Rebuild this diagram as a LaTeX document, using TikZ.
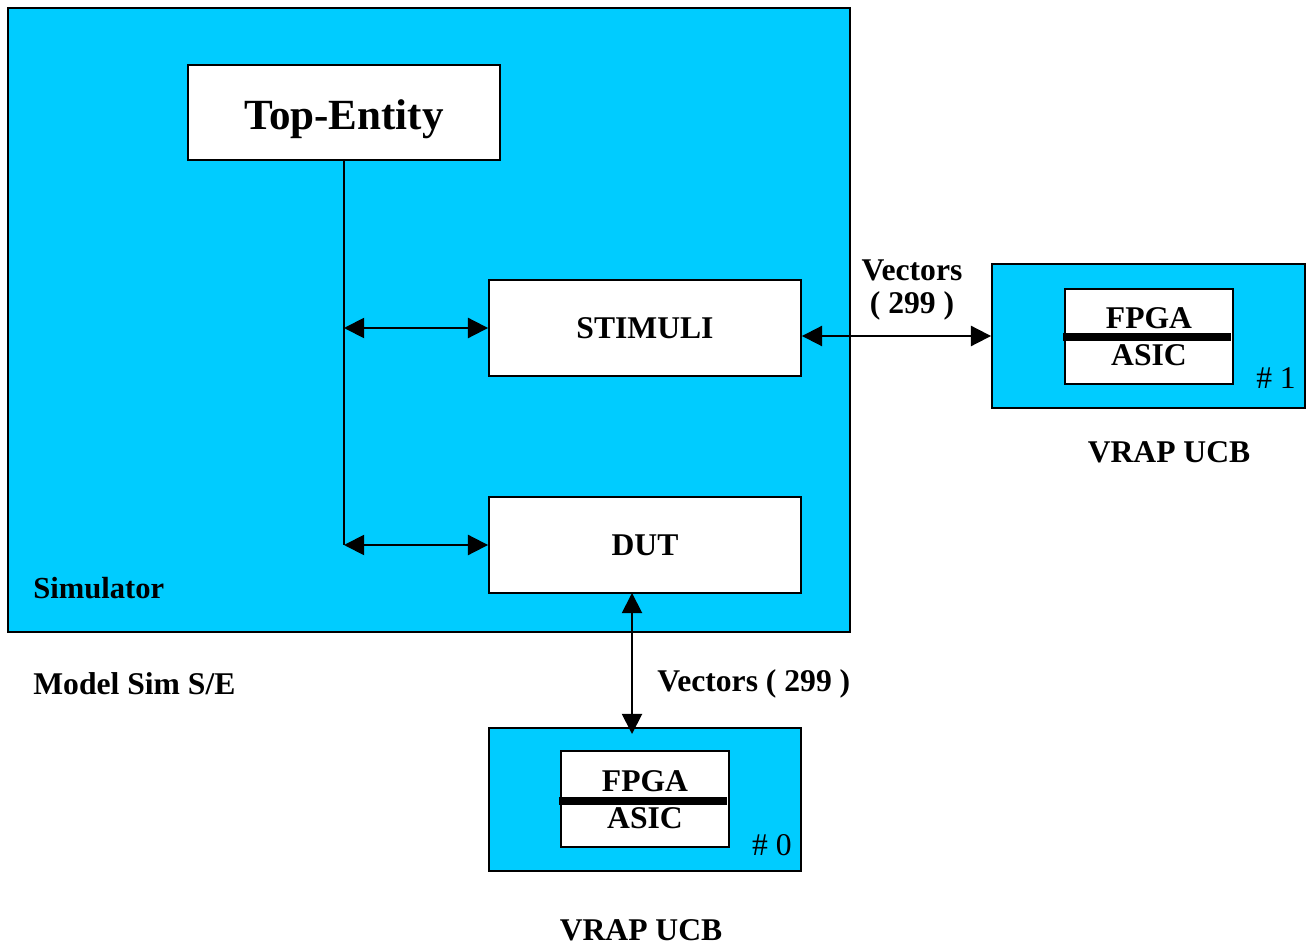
\documentclass[tikz,border=0pt]{standalone}
\usepackage{fontspec}
\setmainfont{Liberation Serif}
\usetikzlibrary{arrows.meta}
\definecolor{simcyan}{HTML}{00CCFF}
\begin{document}
\begin{tikzpicture}[x=0.02cm,y=-0.02cm,
  box/.style={draw=black,line width=1.1pt,rectangle,inner sep=0pt},
  cyanbox/.style={box,fill=simcyan},
  whitebox/.style={box,fill=white},
  lbl/.style={font=\bfseries\fontsize{18}{20}\selectfont,inner sep=0pt},
  num/.style={font=\fontsize{18}{20}\selectfont,inner sep=0pt},
  dbl/.style={line width=1.1pt,{Triangle[length=11.5pt,width=11.5pt]}-{Triangle[length=11.5pt,width=11.5pt]}},
  bar/.style={line width=4pt}]
\useasboundingbox (0,0) rectangle (1311,945);
% simulator
\node[cyanbox,minimum width=16.84cm,minimum height=12.48cm] (sim) at (429,320) {};
\node[whitebox,minimum width=6.24cm,minimum height=1.9cm] (top) at (344,112.5) {};
\node[font=\bfseries\fontsize{24.5}{26}\selectfont,inner sep=0pt] (toptxt) at (344,119) {Top-Entity};
\node[whitebox,minimum width=6.24cm,minimum height=1.92cm,font=\bfseries\fontsize{18}{20}\selectfont] (stim) at (645,328) {STIMULI};
\node[whitebox,minimum width=6.24cm,minimum height=1.92cm,font=\bfseries\fontsize{18}{20}\selectfont] (dut) at (645,545) {DUT};
\node[lbl,anchor=west,font=\bfseries\fontsize{17.4}{20}\selectfont] (simlbl) at (33,588) {Simulator};
\node[lbl,anchor=west] (mslbl) at (33,684) {Model Sim S/E};
% bus
\coordinate (j1) at (top.south |- stim.west);
\coordinate (j2) at (top.south |- dut.west);
\draw[line width=1.1pt] (top.south) -- (j2);
\draw[dbl] (j1) -- (stim.west);
\draw[dbl] (j2) -- (dut.west);
% right board
\node[cyanbox,minimum width=6.26cm,minimum height=2.88cm] (rb) at (1148.5,336) {};
\node[whitebox,minimum width=3.36cm,minimum height=1.9cm] (rin) at (1149,336.5) {};
\coordinate (rbl) at (1063,337);
\coordinate (rbr) at (1231,337);
\draw[bar] (rbl) -- (rbr);
\node[lbl] (rf) at (1149,318) {FPGA};
\node[lbl] (ra) at (1149,355) {ASIC};
\node[num] (rn) at (1276,378) {\# 1};
\node[lbl] (rv) at (1169,452) {VRAP UCB};
\draw[dbl] (stim.east |- rb.west) -- (rb.west);
\node[lbl] (vr1) at (912,270) {Vectors};
\node[lbl] (vr2) at (912,306) {( 299 )};
% bottom board
\node[cyanbox,minimum width=6.24cm,minimum height=2.86cm] (bb) at (645,799.5) {};
\node[whitebox,minimum width=3.36cm,minimum height=1.92cm] (bin) at (645,799) {};
\coordinate (bbl) at (559,801);
\coordinate (bbr) at (727,801);
\draw[bar] (bbl) -- (bbr);
\node[lbl] (bf) at (645,781) {FPGA};
\node[lbl] (ba) at (645,818) {ASIC};
\node[num] (bn) at (772,845) {\# 0};
\node[lbl] (bv) at (641,930) {VRAP UCB};
\coordinate (v1) at (632,593);
\coordinate (v2) at (632,734);
\draw[dbl] (v1) -- (v2);
\node[lbl,anchor=west] (vb) at (657,684) {Vectors ( 299 )};
\end{tikzpicture}
\end{document}
